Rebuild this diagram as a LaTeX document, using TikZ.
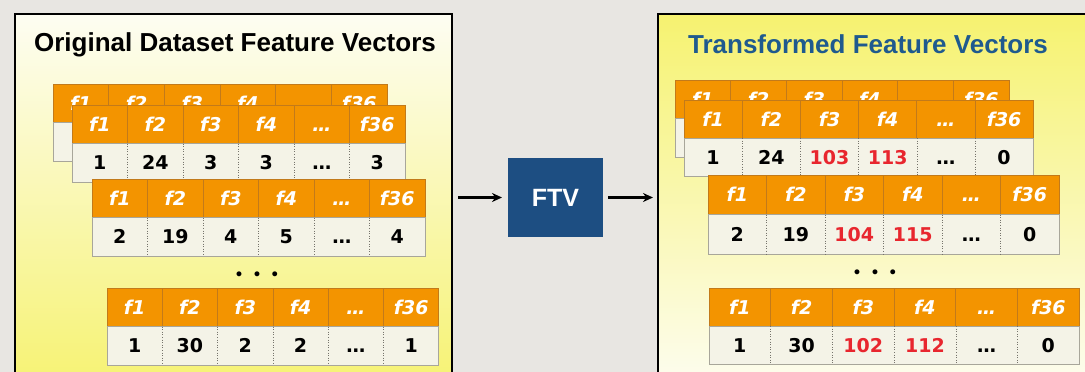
\documentclass[tikz,border=0pt]{standalone}
\usepackage{fontspec}
\setmainfont{Liberation Sans}
\newfontfamily\cellfont{DejaVu Sans}
\usetikzlibrary{arrows.meta, positioning}

\definecolor{bggrey}{HTML}{E8E6E2}
\definecolor{paleyellow}{HTML}{FDFDF2}
\definecolor{panelyellow}{HTML}{F6F270}
\definecolor{hdorange}{HTML}{F39400}
\definecolor{hdedge}{HTML}{C27A1A}
\definecolor{valfill}{HTML}{F4F3E7}
\definecolor{valedge}{HTML}{A8A69A}
\definecolor{ftvblue}{HTML}{1D4E82}
\definecolor{titleblue}{HTML}{1F5A8E}
\definecolor{valred}{HTML}{E8262E}

\tikzstyle{panel} = [rectangle, draw=black, line width=2pt, anchor=north west, outer sep=0pt]
\tikzstyle{paneltitle} = [font=\bfseries\fontsize{26}{26}\selectfont]
\tikzstyle{hdcell} = [rectangle, fill=hdorange, draw=hdedge, line width=0.8pt, text=white, inner sep=0pt, outer sep=0pt, text height=14pt, text depth=0pt, font=\cellfont\bfseries\itshape\fontsize{19}{19}\selectfont]
\tikzstyle{valcell} = [rectangle, fill=valfill, inner sep=0pt, outer sep=0pt, text height=14pt, text depth=0pt, font=\cellfont\bfseries\fontsize{19}{19}\selectfont]
\tikzstyle{valrule} = [draw=valedge, line width=0.8pt]
\tikzstyle{sepline} = [draw=valedge!70!black, dotted, line width=0.6pt]
\tikzstyle{rowdots} = [font=\cellfont\bfseries\fontsize{14}{14}\selectfont]
\tikzstyle{process} = [rectangle, fill=ftvblue, text=white, font=\bfseries\fontsize{25}{25}\selectfont, minimum width=95pt, minimum height=79pt, outer sep=0pt]
\tikzstyle{arrow} = [line width=2.2pt, -{Stealth[length=10pt, width=9pt]}]

\newcommand{\rv}[1]{\textcolor{valred}{#1}}
% one feature vector: name, left, top, cell width, cell height, values
\newcommand{\featvec}[6]{%
  \foreach \lab [count=\i] in {f1,f2,f3,f4,\ldots,f36}
    \node (#1h\i) [hdcell, minimum width=#4pt, minimum height=#5pt] at ({#2+(\i-0.5)*#4}, {#3+0.5*#5}) {\lab};
  \foreach \val [count=\i] in {#6}
    \node (#1v\i) [valcell, minimum width=#4pt, minimum height=#5pt, below=0pt of #1h\i] {\val};
  \draw [valrule] (#1v1.north west) rectangle (#1v6.south east);
  \foreach \i in {2,...,6}
    \draw [sepline] (#1v\i.north west) -- (#1v\i.south west);
}

\begin{document}
\begin{tikzpicture}[x=1pt, y=-1pt]

    \clip (0,0) rectangle (1085,372);
    \fill [bggrey] (0,0) rectangle (1085,372);

    % Panels
    \node (origpanel) [panel, top color=paleyellow, bottom color=panelyellow, minimum width=437pt, minimum height=380pt] at (15,14) {};
    \node (transpanel) [panel, top color=panelyellow, bottom color=paleyellow, minimum width=450pt, minimum height=380pt] at (658,14) {};
    \node (origtitle) [paneltitle] at (235,45) {Original Dataset Feature Vectors};
    \node (transtitle) [paneltitle, text=titleblue] at (868,44) {Transformed Feature Vectors};

    % Original vectors
    \featvec{oa}{53}{84}{55.7}{38.5}{{},{},{},{},{},{}}
    \featvec{ob}{72}{105}{55.5}{38.5}{1,24,3,3,\ldots,3}
    \featvec{oc}{92}{179}{55.5}{38.5}{2,19,4,5,\ldots,4}
    \node (origdots) [rowdots] at (257,276) {\textbullet\hspace{9pt}\textbullet\hspace{9pt}\textbullet};
    \featvec{od}{107}{288}{55.3}{38.5}{1,30,2,2,\ldots,1}

    % Transformed vectors
    \featvec{ta}{675}{80}{55.7}{38.5}{{},{},{},{},{},{}}
    \featvec{tb}{684}{100}{58.2}{38}{1,24,\rv{103},\rv{113},\ldots,0}
    \featvec{tc}{708}{175}{58.5}{39.5}{2,19,\rv{104},\rv{115},\ldots,0}
    \node (transdots) [rowdots] at (875,274) {\textbullet\hspace{9pt}\textbullet\hspace{9pt}\textbullet};
    \featvec{td}{709}{288}{61.7}{38}{1,30,\rv{102},\rv{112},\ldots,0}

    % FTV
    \node (ftv) [process] at (555.5,197.5) {FTV};

    % Arrows
    \draw [arrow, shorten <=6pt, shorten >=6pt] (origpanel.east |- ftv.west) -- (ftv.west);
    \draw [arrow, shorten <=5pt, shorten >=5pt] (ftv.east) -- (transpanel.west |- ftv.east);

\end{tikzpicture}
\end{document}
